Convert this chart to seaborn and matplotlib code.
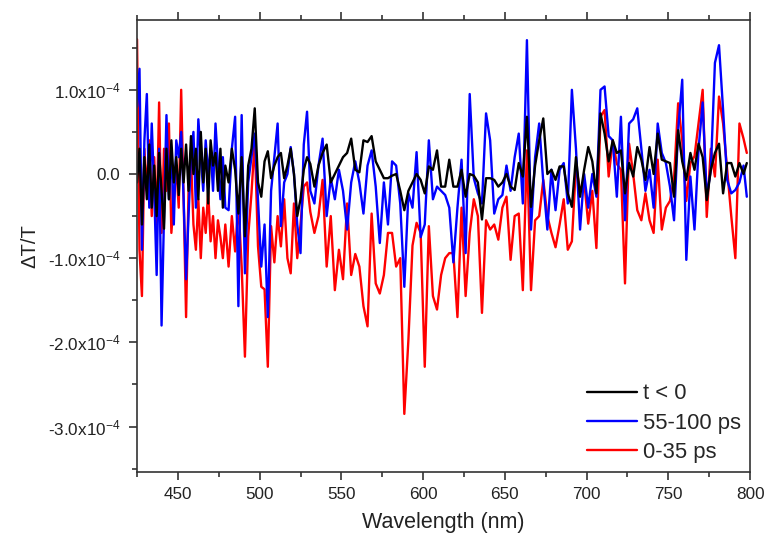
import matplotlib
matplotlib.use('Agg')
import matplotlib.pyplot as plt
from matplotlib.ticker import MultipleLocator, FuncFormatter
import numpy as np
import pandas as pd
import seaborn as sns

sns.set_style('ticks')
plt.rcParams['font.family'] = ['Liberation Sans', 'DejaVu Sans']
plt.rcParams['mathtext.fontset'] = 'custom'
plt.rcParams['mathtext.rm'] = 'Liberation Sans'
plt.rcParams['mathtext.it'] = 'Liberation Sans:italic'
plt.rcParams['mathtext.default'] = 'regular'

# values, dT/T in units of 1e-4
SCALE = 1e-4

wavelength = [
    425, 426.5, 428, 429.5, 431, 432.5, 434, 435.5, 437, 438.5, 440, 441.5,
    443, 444.5, 446, 447.5, 449, 450.5, 452, 453.5, 455, 456.5, 458, 459.5,
    461, 462.5, 464, 465.5, 467, 468.5, 470, 471.5, 473, 474.5, 476, 477.5, 479,
    481, 483, 485, 487, 489, 491, 493, 495, 497, 499, 501, 503, 505, 507,
    509, 511, 513, 515, 517, 519, 521, 523, 525, 527, 529, 531,
    533.5, 536, 538.5, 541, 543.5, 546, 548.5, 551, 553.5, 556, 558.5, 561,
    563.5, 566, 568.5, 571, 573.5, 576, 578.5, 581, 583.5,
    586, 588.5, 591, 593.5, 596, 598.5, 601, 603.5, 606, 608.5, 611, 613.5,
    616, 618.5, 621, 623.5, 626, 628.5, 631, 633.5, 636, 638.5,
    641, 643.5, 646, 648.5, 651, 653.5, 656, 658.5, 661, 663.5, 666, 668.5,
    671, 673.5, 676, 678.5, 681, 683.5, 686, 688.5, 691,
    693.5, 696, 698.5, 701, 703.5, 706, 708.5, 711, 713.5, 716, 718.5, 721,
    723.5, 726, 728.5, 731, 733.5, 736, 738.5, 741, 743.5, 746,
    748.5, 751, 753.5, 756, 758.5, 761, 763.5, 766, 768.5, 771, 773.5, 776,
    778.5, 781, 783.5, 786, 788.5, 791, 793.5, 796, 798,
]

before_zero = [
    -0.1, 0.3, -0.6, 0.2, -0.3, 0.35, -0.4, 0.1, -0.5, 0.25, -0.2, -0.65,
    0.3, -0.3, 0.4, -0.1, 0.2, -0.25, 0.3, -0.1, 0.35, -0.2, 0.45, 0.0,
    0.3, -0.3, 0.5, -0.1, 0.3, -0.35, 0.4, 0.1, 0.25, -0.2, 0.3, -0.4, 0.1,
    -0.1, 0.3, 0.05, -0.47, 0.2, -0.74, 0.1, 0.3, 0.78, -0.1, -0.27, 0.15,
    0.27, -0.05, 0.1, 0.2, 0.25, -0.05, 0.1, 0.3, 0.0, -0.5, -0.3, 0.05, 0.2, 0.12,
    -0.15, 0.1, 0.25, 0.35, -0.1, 0.0, 0.1, 0.2, 0.25, 0.42, 0.05, 0.02,
    0.4, 0.38, 0.45, 0.15, 0.05, -0.05, -0.05, -0.02, 0.0,
    -0.2, -0.43, -0.2, -0.1, 0.0, -0.07, -0.23, 0.09, 0.05, 0.28, -0.15, -0.15,
    0.17, -0.15, -0.15, 0.05, -0.27, 0.0, -0.02, -0.1, -0.54, -0.05,
    -0.05, -0.07, -0.15, -0.1, 0.0, -0.15, -0.19, 0.13, -0.03, 0.68, -0.39, 0.1,
    0.4, 0.66, 0.0, 0.05, -0.07, 0.09, 0.09, -0.23, -0.39,
    0.2, -0.27, 0.05, 0.32, 0.15, -0.23, 0.72, 0.48, 0.15, 0.4, 0.25, 0.28,
    -0.23, 0.13, -0.03, 0.32, 0.17, -0.07, 0.32, 0.0, 0.48, 0.17,
    0.15, 0.13, -0.27, 0.52, 0.15, -0.07, 0.25, 0.05, 0.36, 0.2, -0.31, 0.05,
    0.25, 0.36, -0.23, 0.13, 0.13, -0.03, 0.13, 0.0, 0.13,
]

late_55_100 = [
    0.8, 1.25, -0.9, 0.4, 0.95, -0.4, 0.6, -0.2, -1.2, 0.3, -1.8, -0.5,
    0.7, -0.3, 0.3, -0.6, 0.4, 0.2, 0.5, -0.3, -1.25, -0.5, 0.2, 0.5,
    -0.4, 0.65, 0.2, -0.2, 0.4, 0.0, 0.3, -0.2, 0.6, 0.1, -0.3, 0.2, -0.4,
    -0.43, 0.3, 0.68, -1.57, 0.7, -1.18, -0.1, 0.2, 0.48, -0.3, -1.1, -0.6,
    -1.7, -0.2, 0.2, 0.6, -0.62, -0.1, 0.0, 0.32, 0.0, -0.6, -0.94, 0.35, 0.74, -0.2,
    -0.35, 0.1, 0.42, -0.5, -0.05, -0.3, 0.05, -0.2, -0.66, -0.1, 0.15, -0.1,
    -0.47, 0.1, 0.28, -0.15, -0.82, -0.1, -0.6, 0.15, 0.1,
    -0.35, -1.34, -0.23, -0.4, 0.26, -0.75, -0.6, 0.4, -0.3, -0.15, -0.2, -0.25,
    -0.4, -1.05, -0.4, 0.17, -0.94, 0.95, -0.05, -0.23, -0.35, 0.72,
    0.4, -0.47, -0.3, -0.25, 0.1, -0.2, 0.2, 0.48, -0.35, 1.59, -0.66, 0.2,
    0.6, -0.1, -0.66, 0.05, -0.43, 0.05, 0.13, -0.35, 1.0,
    0.3, -0.66, 0.0, -0.4, 0.0, -0.27, 1.0, 1.04, 0.45, 0.4, -0.27, 0.68,
    -0.55, 0.6, 0.65, 0.78, 0.3, -0.2, 0.05, -0.4, 0.6, 0.25,
    0.13, -0.15, -0.55, 0.52, 1.12, -1.02, -0.03, -0.66, 0.3, 0.85, -0.27, 0.05,
    1.32, 1.53, 0.76, -0.07, -0.23, -0.19, -0.1, 0.1, -0.27,
]

early_0_35 = [
    1.6, -0.9, -1.45, 0.3, -0.2, 0.4, -0.5, 0.2, -0.6, 0.85, -0.7, 0.3,
    -0.2, 0.6, -0.7, -0.3, 0.1, -0.4, 1.0, -0.3, -1.7, -0.2, 0.2, -0.6,
    -0.9, -0.3, -1.0, -0.4, -0.7, -0.2, -0.8, -0.5, -1.0, -0.55, -0.75, -1.0, -0.6,
    -1.1, -0.5, -0.92, -0.35, -1.1, -2.17, -0.74, -0.23, 0.4, -0.86, -1.34, -1.37,
    -2.29, -0.62, -1.05, -0.5, -0.86, -0.3, -1.0, -1.18, -0.35, -1.0, -0.6, -0.15, -0.1, -0.45,
    -0.7, -0.5, -0.07, -1.1, -0.5, -1.38, -0.9, -1.25, -0.35, -1.2, -0.95, -1.1,
    -1.57, -1.81, -0.47, -1.3, -1.42, -1.2, -0.7, -0.7, -1.1,
    -1.0, -2.85, -1.97, -0.85, -0.58, -0.7, -2.29, -0.62, -1.45, -1.61, -1.2, -1.0,
    -0.94, -0.94, -1.7, -0.4, -1.45, -0.7, -0.3, -0.5, -1.65, -0.55,
    -0.66, -0.6, -0.78, -0.4, -0.27, -1.02, -0.5, -0.47, -1.38, 0.28, -1.38, -0.55,
    -0.5, -0.07, -0.5, -0.7, -0.87, -0.6, -0.3, -0.9, -0.8,
    0.1, -0.2, -0.08, -0.59, -0.2, -0.88, 0.68, 0.76, -0.03, 0.4, 0.12, 0.05,
    -1.3, 0.36, 0.0, -0.43, -0.55, -0.23, -0.55, -0.7, 0.17, -0.66,
    -0.4, -0.32, -0.05, 0.84, 0.4, -0.32, 0.13, 0.21, 0.6, 1.0, -0.51, 0.3,
    -0.03, 0.92, 0.6, 0.05, -0.5, -1.0, 0.6, 0.42, 0.25,
]

labels = ['t < 0', '55-100 ps', '0-35 ps']
colors = {'t < 0': '#000000', '55-100 ps': '#0000FF', '0-35 ps': '#FF0000'}

assert len(wavelength) == len(before_zero) == len(late_55_100) == len(early_0_35)

df = pd.DataFrame({
    'wavelength': wavelength,
    't < 0': np.array(before_zero) * SCALE,
    '55-100 ps': np.array(late_55_100) * SCALE,
    '0-35 ps': np.array(early_0_35) * SCALE,
}).melt(id_vars='wavelength', var_name='trace', value_name='dT')

fig = plt.figure(figsize=(7.66, 5.35), dpi=100)
ax = fig.add_axes([0.1789, 0.1178, 0.8003, 0.8449])

# red first, black on top
sns.lineplot(data=df, x='wavelength', y='dT', hue='trace',
             hue_order=['0-35 ps', '55-100 ps', 't < 0'], palette=colors,
             sort=False, estimator=None, linewidth=1.7, ax=ax)

ax.set_xlim(425, 800)
ax.set_ylim(-3.54e-4, 1.83e-4)
ax.xaxis.set_major_locator(MultipleLocator(50))
ax.xaxis.set_minor_locator(MultipleLocator(25))
ax.yaxis.set_major_locator(MultipleLocator(1e-4))
ax.yaxis.set_minor_locator(MultipleLocator(0.5e-4))


def fmt_y(v, pos):
    m = v / SCALE
    if abs(m) < 1e-9:
        return '0.0'
    sign = '-' if m < 0 else ''
    return f'{sign}{abs(m):.1f}x10$^{{-4}}$'


ax.yaxis.set_major_formatter(FuncFormatter(fmt_y))
ax.tick_params(which='both', direction='out', top=True, right=False,
               color='#222222', width=1.1, labelsize=12.3, labelcolor='#222222')
ax.tick_params(which='major', length=6)
ax.tick_params(which='minor', length=3.5)
ax.tick_params(axis='x', which='major', pad=5)
ax.tick_params(axis='y', which='major', pad=6)
for s in ax.spines.values():
    s.set_color('#333333')
    s.set_linewidth(1.2)

ax.set_xlabel('Wavelength (nm)', fontsize=15.5, color='#222222', labelpad=7)
ax.set_ylabel('ΔT/T', fontsize=14.5, color='#222222', labelpad=6)

handles, lbls = ax.get_legend_handles_labels()
order = [lbls.index(l) for l in labels]
ax.legend([handles[i] for i in order], labels, loc='lower right',
          bbox_to_anchor=(0.985, 0.02), frameon=False, fontsize=15.8,
          borderpad=0, borderaxespad=0, labelspacing=0.38,
          handlelength=2.3, handletextpad=0.25)

fig.savefig('out.png', dpi=100)
